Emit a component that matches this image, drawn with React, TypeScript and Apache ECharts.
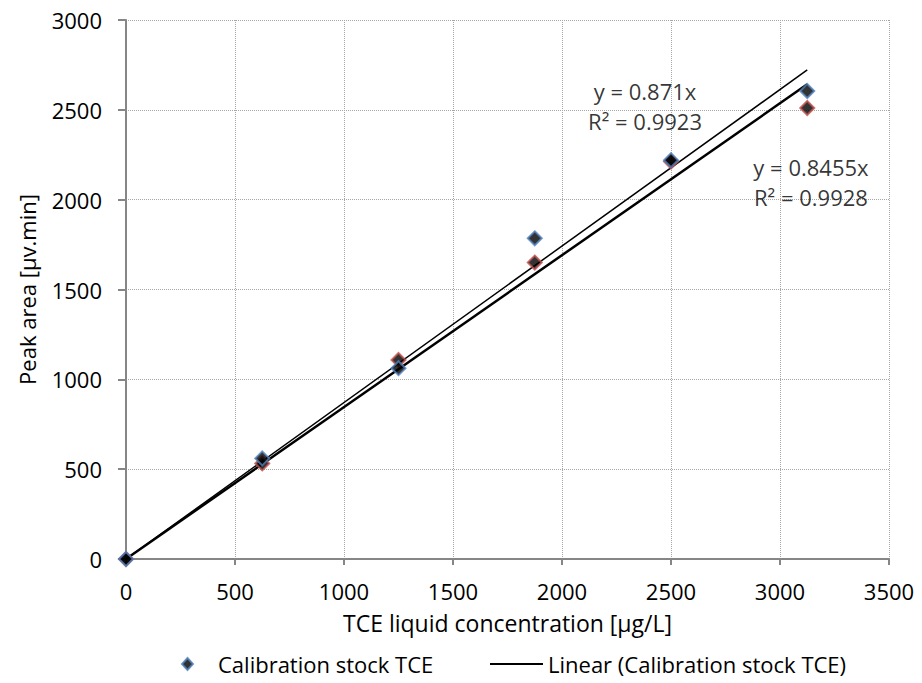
import React, { useEffect, useRef } from "react";
import * as echarts from "echarts";

// Concentration levels (x) [µg/L]
const concentrations = [0, 625, 1250, 1875, 2500, 3125];
// Calibration stock TCE (blue markers) – peak area [µv.min]
const stockBlue = [0, 560, 1062, 1785, 2220, 2605];
// Second calibration run (red markers)
const stockRed = [0, 532, 1108, 1650, 2212, 2510];
// Linear trendline slopes (through origin) and R²
const slopes = [0.871, 0.8455];
const rSquared = [0.9923, 0.9928];
// Axis ticks
const xTicks = [0, 500, 1000, 1500, 2000, 2500, 3000, 3500];
const yTicks = [0, 500, 1000, 1500, 2000, 2500, 3000];

const FONT = "'Open Sans', 'Liberation Sans', sans-serif";
const BLUE = "#4f81bd";
const RED = "#c0504d";
const AXIS = "#868686";

export default function App() {
  const ref = useRef<HTMLDivElement>(null);

  useEffect(() => {
    if (!ref.current) return;
    const chart = echarts.init(ref.current, undefined, { renderer: "svg" });
    const xEnd = concentrations[concentrations.length - 1];
    const trend = (s: number) => [
      [0, 0],
      [xEnd, s * xEnd],
    ];
    const eqLabel = (i: number) => `y = ${slopes[i]}x\nR² = ${rSquared[i]}`;
    const plain = (v: number) => String(v);

    const option: echarts.EChartsOption = {
      animation: false,
      textStyle: { fontFamily: FONT, color: "#000" },
      grid: { left: 126, right: 33, top: 20, bottom: 124 },
      xAxis: {
        type: "value",
        min: xTicks[0],
        max: xTicks[xTicks.length - 1],
        interval: xTicks[1] - xTicks[0],
        name: "TCE liquid concentration [µg/L]",
        nameLocation: "middle",
        nameGap: 52,
        nameTextStyle: { fontFamily: FONT, fontSize: 23, color: "#000" },
        axisLine: { show: true, lineStyle: { color: AXIS, width: 2 } },
        axisTick: { show: true, length: 6, lineStyle: { color: AXIS, width: 2 } },
        axisLabel: { fontFamily: FONT, fontSize: 22, color: "#000", margin: 21, formatter: plain },
        splitLine: { show: true, lineStyle: { color: "#a6a6a6", type: "dotted", width: 1 } },
      },
      yAxis: {
        type: "value",
        min: yTicks[0],
        max: yTicks[yTicks.length - 1],
        interval: yTicks[1] - yTicks[0],
        name: "Peak area [µv.min]",
        nameLocation: "middle",
        nameGap: 88,
        nameTextStyle: { fontFamily: FONT, fontSize: 22, color: "#000" },
        axisLine: { show: true, lineStyle: { color: AXIS, width: 2 } },
        axisTick: { show: true, length: 8, lineStyle: { color: AXIS, width: 2 } },
        axisLabel: { fontFamily: FONT, fontSize: 22, color: "#000", margin: 24, formatter: plain },
        splitLine: { show: true, lineStyle: { color: "#a6a6a6", type: "dotted", width: 1 } },
      },
      legend: [
        {
          data: ["Calibration stock TCE"],
          left: 181,
          top: 653,
          padding: 0,
          itemWidth: 11,
          itemHeight: 12,
          itemGap: 0,
          textStyle: { fontFamily: FONT, fontSize: 22, color: "#000", padding: [0, 0, 0, 20] },
        },
        {
          data: [
            {
              name: "Linear (Calibration stock TCE)",
              icon: "path://M0,0H0.01V0.01H0Z M0,5H53V7H0Z M53,12H52.99V11.99H53Z",
            },
          ],
          left: 490,
          top: 653,
          padding: 0,
          itemWidth: 53,
          itemHeight: 12,
          textStyle: { fontFamily: FONT, fontSize: 22, color: "#000" },
        },
      ],
      series: [
        {
          name: "Linear (Calibration stock TCE)",
          type: "line",
          data: trend(slopes[0]),
          symbol: "none",
          lineStyle: { color: "#000", width: 1.5 },
          itemStyle: { color: "#000" },
          z: 2,
        },
        {
          name: "Linear (Calibration stock TCE 2)",
          type: "line",
          data: trend(slopes[1]),
          symbol: "none",
          lineStyle: { color: "#000", width: 2.5 },
          itemStyle: { color: "#000" },
          z: 2,
        },
        {
          name: "Calibration stock TCE 2",
          type: "scatter",
          data: concentrations.map((x, i) => [x, stockRed[i]]),
          symbol: "diamond",
          symbolSize: 14,
          itemStyle: { color: "#000", borderColor: RED, borderWidth: 2 },
          z: 3,
        },
        {
          name: "Calibration stock TCE",
          type: "scatter",
          data: concentrations.map((x, i) => [x, stockBlue[i]]),
          symbol: "diamond",
          symbolSize: 14,
          itemStyle: { color: "#000", borderColor: BLUE, borderWidth: 2 },
          z: 3,
        },
        {
          name: "equations",
          type: "scatter",
          symbolSize: 0,
          silent: true,
          data: [
            { value: [2381, 2521], label: { formatter: eqLabel(0) } },
            { value: [3142, 2098], label: { formatter: eqLabel(1) } },
          ],
          label: {
            show: true,
            position: "inside",
            fontFamily: FONT,
            fontSize: 22,
            lineHeight: 30,
            color: "#000",
            align: "center",
            verticalAlign: "middle",
          },
          z: 4,
        },
      ],
    };
    chart.setOption(option);
    return () => chart.dispose();
  }, []);

  return (
    <div
      ref={ref}
      style={{ position: "fixed", left: 0, top: 0, width: 922, height: 683, background: "#fff" }}
    />
  );
}
